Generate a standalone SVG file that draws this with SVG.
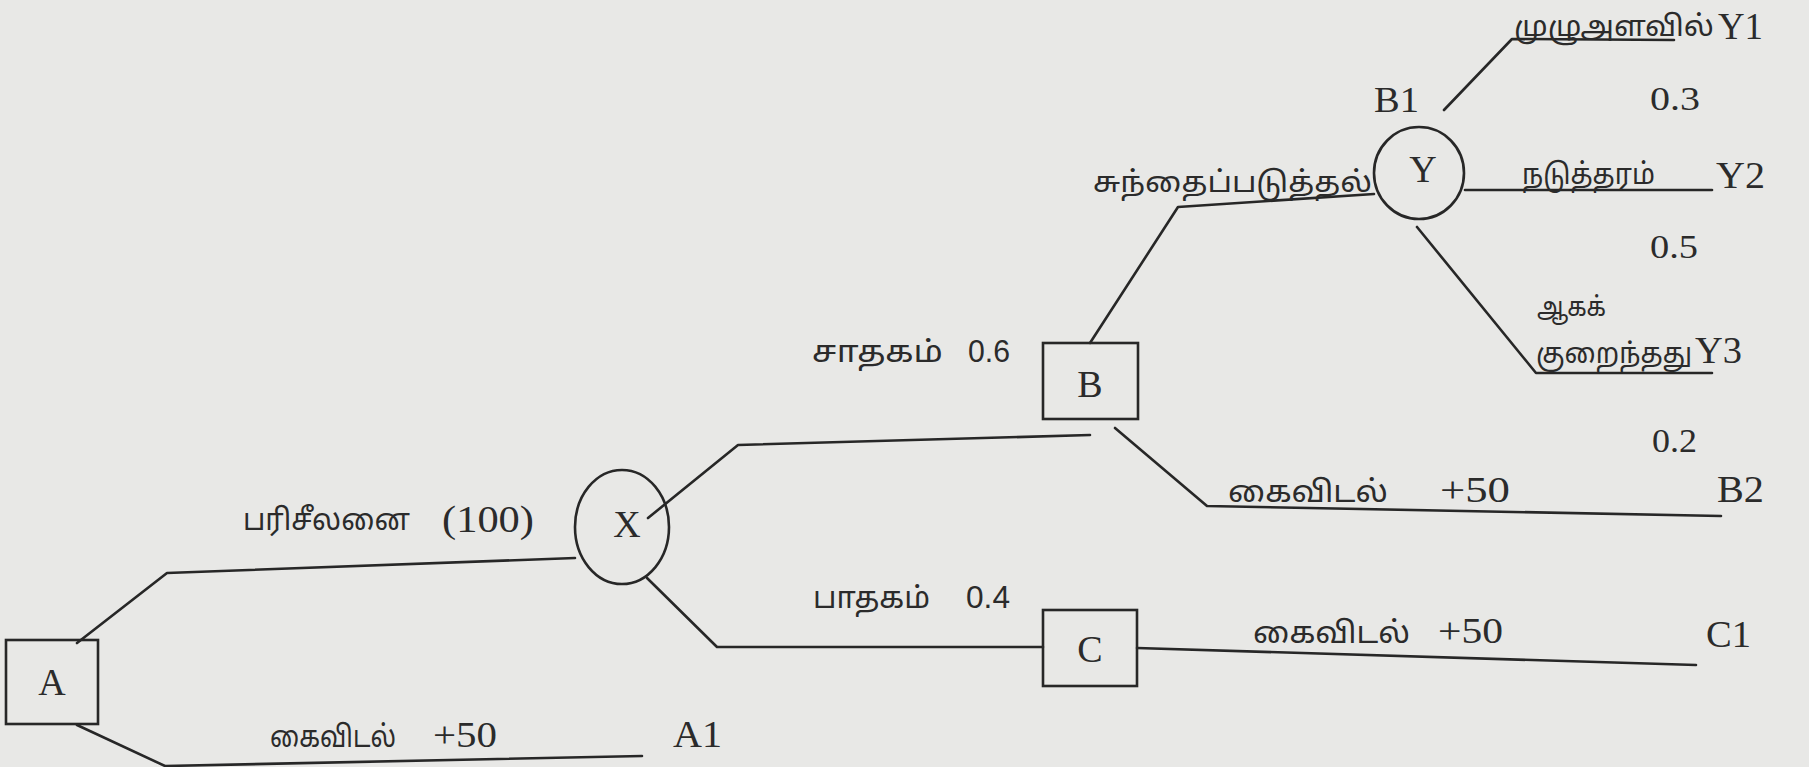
<svg xmlns="http://www.w3.org/2000/svg" width="1809" height="767" viewBox="0 0 1809 767">
<style>
.bg{fill:#e8e8e6}
.ln{fill:none;stroke:#272727;stroke-width:2.6;stroke-linejoin:round;stroke-linecap:round}
.box{fill:none;stroke:#272727;stroke-width:2.6}
.ser{font-family:"Liberation Serif","DejaVu Serif",serif;fill:#2b2b2b}
.san{font-family:"Liberation Sans","DejaVu Sans",sans-serif;fill:#2b2b2b}
.tam{font-family:"Noto Sans Tamil","Latha","Noto Sans",sans-serif;fill:#2b2b2b}
.node{font-size:38px;text-anchor:middle}
</style>
<rect class="bg" x="0" y="0" width="1809" height="767"/>
<g id="connectors">
<polyline class="ln" points="77,643 167,573 575,558"/>
<polyline class="ln" points="77,725 165,766 642,756"/>
<polyline class="ln" points="648,518 738,445 1090,435"/>
<polyline class="ln" points="647,578 717,647 1043,647"/>
<polyline class="ln" points="1090,343 1178,207 1374,194"/>
<polyline class="ln" points="1115,428 1207,506 1721,516"/>
<line class="ln" x1="1137" y1="648" x2="1696" y2="665"/>
<polyline class="ln" points="1444,110 1512,39 1674,40"/>
<line class="ln" x1="1465" y1="190" x2="1712" y2="190"/>
<polyline class="ln" points="1417,227 1536,373 1712,373"/>
</g>
<g id="node-A">
<rect class="box" x="6" y="640" width="92" height="84"/>
<text class="ser node" x="52" y="695">A</text>
</g>
<g id="node-X">
<ellipse class="box" cx="622" cy="527" rx="47" ry="57"/>
<text class="ser node" x="627" y="537" font-size="40">X</text>
</g>
<g id="node-B">
<rect class="box" x="1043" y="343" width="95" height="76"/>
<text class="ser node" x="1090" y="397">B</text>
</g>
<g id="node-C">
<rect class="box" x="1043" y="610" width="94" height="76"/>
<text class="ser node" x="1090" y="662">C</text>
</g>
<g id="node-Y">
<ellipse class="box" cx="1419" cy="173" rx="45" ry="46"/>
<text class="ser node" x="1423" y="182">Y</text>
</g>
<g id="labels">
<text class="tam" x="243" y="530" font-size="30" textLength="167" lengthAdjust="spacingAndGlyphs">பரிசீலனை</text>
<text class="ser" x="442" y="532" font-size="37" textLength="92" lengthAdjust="spacingAndGlyphs">(100)</text>
<text class="tam" x="812" y="362" font-size="30" textLength="131" lengthAdjust="spacingAndGlyphs">சாதகம்</text>
<text class="san" x="968" y="362" font-size="32" textLength="42" lengthAdjust="spacingAndGlyphs">0.6</text>
<text class="tam" x="813" y="608" font-size="30" textLength="117" lengthAdjust="spacingAndGlyphs">பாதகம்</text>
<text class="san" x="966" y="608" font-size="31" textLength="44" lengthAdjust="spacingAndGlyphs">0.4</text>
<text class="tam" x="270" y="747" font-size="30" textLength="126" lengthAdjust="spacingAndGlyphs">கைவிடல்</text>
<text class="ser" x="433" y="747" font-size="36" textLength="64" lengthAdjust="spacingAndGlyphs">+50</text>
<text class="ser" x="673" y="747" font-size="38" textLength="49" lengthAdjust="spacingAndGlyphs">A1</text>
<text class="tam" x="1228" y="502" font-size="30" textLength="160" lengthAdjust="spacingAndGlyphs">கைவிடல்</text>
<text class="ser" x="1440" y="502" font-size="36" textLength="70" lengthAdjust="spacingAndGlyphs">+50</text>
<text class="ser" x="1652" y="452" font-size="34" textLength="45" lengthAdjust="spacingAndGlyphs">0.2</text>
<text class="ser" x="1717" y="502" font-size="38" textLength="47" lengthAdjust="spacingAndGlyphs">B2</text>
<text class="tam" x="1253" y="643" font-size="30" textLength="157" lengthAdjust="spacingAndGlyphs">கைவிடல்</text>
<text class="ser" x="1438" y="643" font-size="36" textLength="65" lengthAdjust="spacingAndGlyphs">+50</text>
<text class="ser" x="1706" y="647" font-size="38" textLength="45" lengthAdjust="spacingAndGlyphs">C1</text>
<text class="tam" x="1093" y="192" font-size="29" textLength="279" lengthAdjust="spacingAndGlyphs">சுந்தைப்படுத்தல்</text>
<text class="ser" x="1374" y="112" font-size="36" textLength="45" lengthAdjust="spacingAndGlyphs">B1</text>
<text class="tam" x="1514" y="36" font-size="29" textLength="200" lengthAdjust="spacingAndGlyphs">முழுஅளவில்</text>
<text class="ser" x="1718" y="39" font-size="38" textLength="45" lengthAdjust="spacingAndGlyphs">Y1</text>
<text class="ser" x="1650" y="110" font-size="34" textLength="50" lengthAdjust="spacingAndGlyphs">0.3</text>
<text class="tam" x="1522" y="184" font-size="29" textLength="133" lengthAdjust="spacingAndGlyphs">நடுத்தரம்</text>
<text class="ser" x="1716" y="188" font-size="38" textLength="49" lengthAdjust="spacingAndGlyphs">Y2</text>
<text class="ser" x="1650" y="258" font-size="34" textLength="48" lengthAdjust="spacingAndGlyphs">0.5</text>
<text class="tam" x="1537" y="316" font-size="27" textLength="69" lengthAdjust="spacingAndGlyphs">ஆகக்</text>
<text class="tam" x="1536" y="363" font-size="28" textLength="156" lengthAdjust="spacingAndGlyphs">குறைந்தது</text>
<text class="ser" x="1695" y="363" font-size="38" textLength="47" lengthAdjust="spacingAndGlyphs">Y3</text>
</g>
</svg>
